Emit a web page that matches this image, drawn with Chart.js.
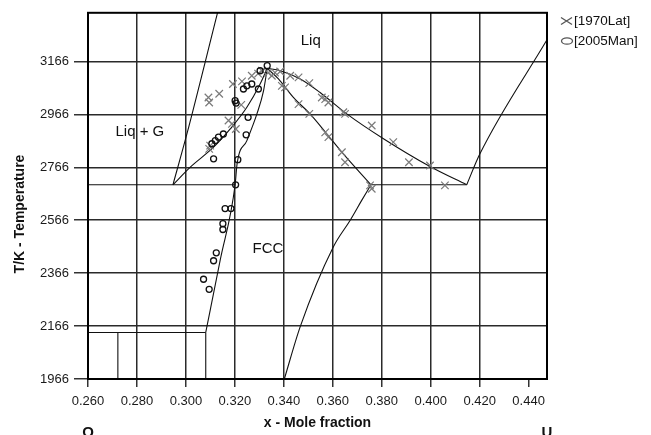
<!DOCTYPE html>
<html>
<head>
<meta charset="utf-8">
<script src="https://cdn.jsdelivr.net/npm/chart.js@4"></script>
<style>
  html, body { margin: 0; padding: 0; background: #fff; }
  canvas { display: block; }
</style>
</head>
<body>
<canvas id="phase" width="651" height="435"></canvas>
<script>
// Sumbu
const xTicks = [0.260, 0.280, 0.300, 0.320, 0.340, 0.360, 0.380, 0.400, 0.420, 0.440];
const yTicks = [1966, 2166, 2366, 2566, 2766, 2966, 3166];
const xMin = 0.260, xMax = 0.4475;
const yMin = 1966, yMax = 3350;

// Data eksperimen [1970Lat] (silang)
const latX = [0.3092, 0.3095, 0.3136, 0.3192, 0.3229, 0.3269, 0.3295, 0.3311, 0.3226, 0.3188,
              0.3174, 0.3204, 0.3099, 0.3095, 0.3364, 0.3385, 0.3426, 0.3460, 0.3504, 0.3555,
              0.3569, 0.3582, 0.3643, 0.3650, 0.3759, 0.3847, 0.3911, 0.3997, 0.4058, 0.3392,
              0.3405, 0.3460, 0.3504, 0.3569, 0.3582, 0.3637, 0.3650, 0.3752, 0.3759, 0.3336,
              0.3351];
const latT = [3030, 3011, 3044, 3081, 3091, 3112, 3120, 3131, 3002, 2930,
              2943, 2911, 2848, 2836, 3124, 3128, 3112, 3106, 3084, 3030,
              3024, 3011, 2974, 2968, 2924, 2861, 2785, 2773, 2698, 3074,
              3068, 3005, 2968, 2898, 2880, 2823, 2785, 2698, 2685, 3123,
              3112];

// Data eksperimen [2005Man] (lingkaran)
const manX = [0.3332, 0.3303, 0.3249, 0.3235, 0.3296, 0.3269, 0.3201, 0.3205, 0.3254, 0.3153,
              0.3133, 0.3120, 0.3106, 0.3246, 0.3113, 0.3212, 0.3203, 0.3160, 0.3184, 0.3151,
              0.3151, 0.3124, 0.3113, 0.3072, 0.3095];
const manT = [3150, 3131, 3074, 3062, 3062, 3081, 3018, 3009, 2955, 2892,
              2880, 2867, 2855, 2889, 2798, 2795, 2700, 2610, 2610, 2553,
              2531, 2443, 2413, 2343, 2305];

// Batas fasa
const liqLeftX  = [0.2947, 0.3018, 0.3113, 0.3181, 0.3249, 0.3303, 0.3332];
const liqLeftT  = [2700, 2767, 2842, 2911, 2993, 3081, 3140];
const solLeftX  = [0.3081, 0.3140, 0.3201, 0.3209, 0.3249, 0.3290, 0.3317, 0.3332];
const solLeftT  = [2142, 2415, 2700, 2779, 2867, 2968, 3055, 3140];
const liqRightX = [0.3332, 0.3385, 0.3467, 0.3548, 0.3657, 0.3807, 0.3997, 0.4147];
const liqRightT = [3140, 3131, 3100, 3049, 2968, 2874, 2769, 2700];
const solRightX = [0.3332, 0.3378, 0.3439, 0.3507, 0.3576, 0.3643, 0.3756];
const solRightT = [3140, 3100, 3030, 2968, 2892, 2817, 2700];
const fccRightX = [0.3402, 0.3467, 0.3602, 0.3671, 0.3718, 0.3756];
const fccRightT = [1966, 2164, 2465, 2566, 2641, 2700];
const gasRightX = [0.4147, 0.4201, 0.4475];
const gasRightT = [2700, 2817, 3248];
const gasLeftX  = [0.2947, 0.3004, 0.3129];
const gasLeftT  = [2700, 2892, 3350];
const monoX     = [0.2600, 0.3201];
const monoT     = [2700, 2700];
const eutX      = [0.3756, 0.4147];
const eutT      = [2700, 2700];
const lowHorX   = [0.2600, 0.3081];
const lowHorT   = [2142, 2142];
const lowV1X    = [0.3081, 0.3081];
const lowV1T    = [1966, 2142];
const lowV2X    = [0.2722, 0.2722];
const lowV2T    = [1966, 2142];

// Label daerah fasa
const regionText = ['Liq', 'Liq + G', 'FCC'];
const regionX    = [0.3510, 0.2812, 0.3335];
const regionT    = [3244, 2899, 2459];

const FONT = 'Arial, "Liberation Sans", Helvetica, sans-serif';
const zip = (xs, ts) => xs.map((x, i) => ({ x, y: ts[i] }));

const boundary = (xs, ts, smooth) => ({
  data: zip(xs, ts),
  showLine: true,
  borderColor: '#111',
  borderWidth: 1.1,
  pointRadius: 0,
  cubicInterpolationMode: smooth ? 'monotone' : 'default',
  tension: 0,
  order: 2
});

const datasets = [
  boundary(liqLeftX, liqLeftT, true),
  boundary(solLeftX, solLeftT, true),
  boundary(liqRightX, liqRightT, true),
  boundary(solRightX, solRightT, true),
  boundary(fccRightX, fccRightT, true),
  boundary(gasRightX, gasRightT, true),
  boundary(gasLeftX, gasLeftT, true),
  boundary(monoX, monoT, false),
  boundary(eutX, eutT, false),
  boundary(lowHorX, lowHorT, false),
  boundary(lowV1X, lowV1T, false),
  boundary(lowV2X, lowV2T, false),
  {
    label: '[1970Lat]',
    data: zip(latX, latT),
    pointStyle: 'crossRot',
    pointRadius: 5.3,
    borderColor: '#7a7a7a',
    borderWidth: 1.2,
    showLine: false,
    order: 1
  },
  {
    label: '[2005Man]',
    data: zip(manX, manT),
    pointStyle: 'circle',
    pointRadius: 3,
    borderColor: '#111',
    backgroundColor: 'rgba(0,0,0,0)',
    borderWidth: 1.3,
    showLine: false,
    order: 0
  }
];

// Bingkai, teks tambahan dan legenda
const decor = {
  id: 'decor',
  afterDatasetsDraw(chart) {
    const { ctx, chartArea: a } = chart;
    ctx.save();
    ctx.strokeStyle = '#000';
    ctx.lineWidth = 2;
    ctx.strokeRect(a.left, a.top, a.right - a.left, a.bottom - a.top);
    ctx.restore();
  },
  afterDraw(chart) {
    const { ctx, scales } = chart;
    const sx = scales.x, sy = scales.y;
    ctx.save();
    ctx.fillStyle = '#111';
    ctx.textAlign = 'center';
    ctx.textBaseline = 'middle';

    // label daerah
    ctx.font = '15px ' + FONT;
    regionText.forEach((t, i) => {
      ctx.fillText(t, sx.getPixelForValue(regionX[i]), sy.getPixelForValue(regionT[i]));
    });

    // judul sumbu y
    ctx.save();
    ctx.translate(20, 214);
    ctx.rotate(-Math.PI / 2);
    ctx.font = 'bold 14px ' + FONT;
    ctx.fillText('T/K - Temperature', 0, 0);
    ctx.restore();

    // komponen O dan U
    ctx.font = 'bold 15px ' + FONT;
    ctx.textBaseline = 'top';
    ctx.fillText('O', sx.getPixelForValue(xMin), 425);
    ctx.fillText('U', sx.getPixelForValue(xMax), 425);

    // legenda
    ctx.textAlign = 'left';
    ctx.textBaseline = 'middle';
    ctx.font = '13.5px ' + FONT;
    ctx.strokeStyle = '#555';
    ctx.lineWidth = 1.3;
    ctx.beginPath();
    ctx.moveTo(561, 17.5); ctx.lineTo(572, 24.5);
    ctx.moveTo(561, 24.5); ctx.lineTo(572, 17.5);
    ctx.stroke();
    ctx.fillText('[1970Lat]', 574, 21);
    ctx.beginPath();
    ctx.ellipse(567, 41, 5.5, 3.2, 0, 0, Math.PI * 2);
    ctx.stroke();
    ctx.fillText('[2005Man]', 574, 41);
    ctx.restore();
  }
};

new Chart(document.getElementById('phase'), {
  type: 'scatter',
  data: { datasets },
  options: {
    responsive: false,
    animation: false,
    events: [],
    layout: { padding: { top: 11, right: 104, left: 0, bottom: 0 } },
    scales: {
      x: {
        type: 'linear',
        min: xMin,
        max: xMax,
        afterBuildTicks: (s) => { s.ticks = xTicks.map(v => ({ value: v })); },
        afterFit: (s) => { s.height = 56; },
        ticks: {
          callback: (v) => Number(v).toFixed(3),
          font: { family: FONT, size: 13 },
          color: '#1a1a1a',
          padding: 7,
          maxRotation: 0,
          autoSkip: false
        },
        grid: {
          color: (c) => (c.tick && (c.tick.value === 0.440 || c.tick.value === 0.260)) ? 'rgba(0,0,0,0)' : '#2a2a2a',
          tickColor: '#333',
          tickLength: 8,
          lineWidth: 1.5
        },
        border: { display: false },
        title: {
          display: true,
          text: 'x - Mole fraction',
          color: '#111',
          font: { family: FONT, size: 14, weight: 'bold' },
          padding: { top: 0, bottom: 3 }
        }
      },
      y: {
        type: 'linear',
        min: yMin,
        max: yMax,
        afterBuildTicks: (s) => { s.ticks = yTicks.map(v => ({ value: v })); },
        afterFit: (s) => { s.width = 88; },
        ticks: {
          callback: (v) => String(v),
          font: { family: FONT, size: 13 },
          color: '#1a1a1a',
          padding: 5
        },
        grid: {
          color: (c) => (c.tick && c.tick.value === 1966) ? 'rgba(0,0,0,0)' : '#2a2a2a',
          tickColor: '#333',
          tickLength: 14,
          lineWidth: 1.5
        },
        border: { display: false }
      }
    },
    plugins: {
      legend: { display: false },
      tooltip: { enabled: false }
    }
  },
  plugins: [decor]
});
</script>
</body>
</html>
